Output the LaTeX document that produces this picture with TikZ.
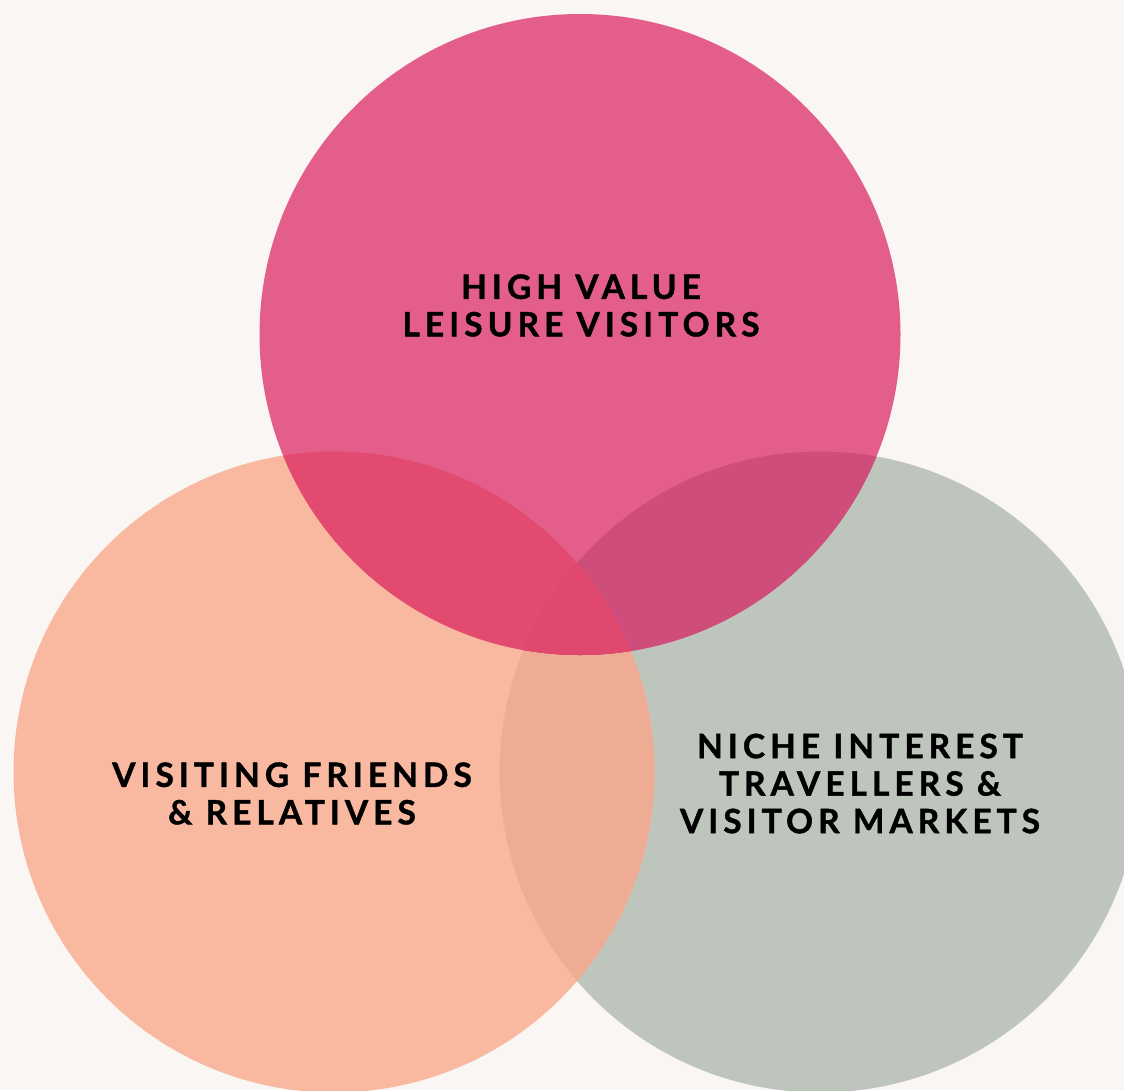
\documentclass[tikz,border=0pt]{standalone}
\usepackage{fontspec}
\newfontfamily\lato{Lato}[LetterSpace=15, BoldFeatures={FakeBold=1.2}]
\definecolor{bgc}{HTML}{F9F6F4}
\definecolor{pinkc}{HTML}{E35E8A}
\definecolor{peachc}{HTML}{F9B8A0}
\definecolor{grayc}{HTML}{BEC5BC}
\definecolor{pinkpeach}{HTML}{E34A6F}
\definecolor{pinkgray}{HTML}{CF4D7A}
\definecolor{triplec}{HTML}{E0486D}
\definecolor{peachgray}{HTML}{EEAC95}
\begin{document}
\begin{tikzpicture}[x=1pt,y=-1pt,
  lbl/.style={font=\lato\bfseries\fontsize{33.5}{37.5}\selectfont, align=center, text=black, inner sep=0pt}]
\fill[bgc] (0,0) rectangle (1124,1090);
\useasboundingbox (0,0) rectangle (1124,1090);
% base circles
\fill[grayc] (820,772) circle[radius=320.5pt];
\fill[peachc] (334,772) circle[radius=320.5pt];
\begin{scope}
  \clip (334,772) circle[radius=320.5pt];
  \fill[peachgray] (820,772) circle[radius=320.5pt];
\end{scope}
\fill[pinkc] (580,334.5) circle[radius=320.5pt];
\begin{scope}
  \clip (580,334.5) circle[radius=320.5pt];
  \fill[pinkpeach] (334,772) circle[radius=320.5pt];
  \fill[pinkgray] (820,772) circle[radius=320.5pt];
  \begin{scope}
    \clip (334,772) circle[radius=320.5pt];
    \fill[triplec] (820,772) circle[radius=320.5pt];
  \end{scope}
\end{scope}
% labels
\node[lbl] (high) at (581,305.5) {HIGH VALUE\\LEISURE VISITORS};
\node[lbl] (vfr) at (292,793.5) {VISITING FRIENDS\\\& RELATIVES};
\node[lbl] (niche) at (860,783.5) {NICHE INTEREST\\TRAVELLERS \&\\VISITOR MARKETS};
\end{tikzpicture}
\end{document}
